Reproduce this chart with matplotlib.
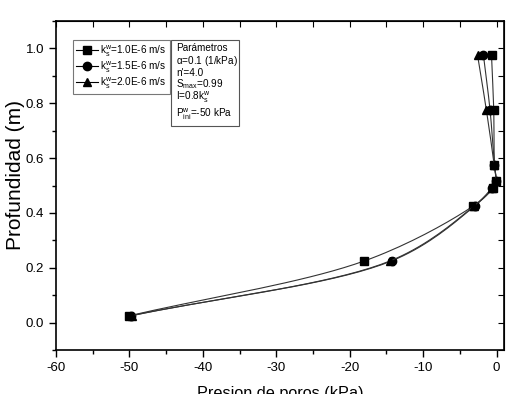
import numpy as np
import matplotlib
matplotlib.use("Agg")
import matplotlib.pyplot as plt
from matplotlib.ticker import MultipleLocator
from matplotlib.patches import Rectangle

plt.rcParams['font.family'] = ['Liberation Sans', 'DejaVu Sans']
plt.rcParams['mathtext.fontset'] = 'custom'
plt.rcParams['mathtext.rm'] = 'Liberation Sans'
plt.rcParams['mathtext.it'] = 'Liberation Sans'
plt.rcParams['mathtext.bf'] = 'Liberation Sans:bold'
plt.rcParams['axes.unicode_minus'] = False

depth = [0.025, 0.225, 0.425, 0.49, 0.515, 0.575, 0.775, 0.975]
p_k10 = [-50.0, -18.0, -3.2, -0.5, -0.1, -0.3, -0.4, -0.7]
p_k15 = [-49.8, -14.3, -3.0, -0.6, -0.1, -0.3, -0.9, -1.8]
p_k20 = [-49.7, -14.5, -3.1, -0.7, -0.15, -0.35, -1.4, -2.6]
labels = [r'k$^{w}_{s}$=1.0E-6 m/s', r'k$^{w}_{s}$=1.5E-6 m/s', r'k$^{w}_{s}$=2.0E-6 m/s']
markers = ['s', 'o', '^']
params = ["Parámetros", r"$\alpha$=0.1 (1/kPa)", "n'=4.0", r"S$_{max}$=0.99",
          r"I=0.8k$^{w}_{s}$", r"P$^{w}_{ini}$=-50 kPa"]


def catmull(xs, ys, n=20, sx=60.0, sy=1.2):
    P = np.column_stack([np.asarray(xs) / sx, np.asarray(ys) / sy])
    P = np.vstack([2 * P[0] - P[1], P, 2 * P[-1] - P[-2]])
    out = []
    for i in range(1, len(P) - 2):
        p0, p1, p2, p3 = P[i - 1], P[i], P[i + 1], P[i + 2]
        t0 = 0.0
        t1 = t0 + max(np.linalg.norm(p1 - p0), 1e-6) ** 0.5
        t2 = t1 + max(np.linalg.norm(p2 - p1), 1e-6) ** 0.5
        t3 = t2 + max(np.linalg.norm(p3 - p2), 1e-6) ** 0.5
        t = np.linspace(t1, t2, n)[:, None]
        A1 = (t1 - t) / (t1 - t0) * p0 + (t - t0) / (t1 - t0) * p1
        A2 = (t2 - t) / (t2 - t1) * p1 + (t - t1) / (t2 - t1) * p2
        A3 = (t3 - t) / (t3 - t2) * p2 + (t - t2) / (t3 - t2) * p3
        B1 = (t2 - t) / (t2 - t0) * A1 + (t - t0) / (t2 - t0) * A2
        B2 = (t3 - t) / (t3 - t1) * A2 + (t - t1) / (t3 - t1) * A3
        C = (t2 - t) / (t2 - t1) * B1 + (t - t1) / (t2 - t1) * B2
        out.append(C)
    C = np.vstack(out)
    return C[:, 0] * sx, C[:, 1] * sy


W, H = 522, 394
fig = plt.figure(figsize=(W / 100, H / 100), dpi=100)
AX_L, AX_R, AX_T, AX_B = 56, 504, 21, 350
ax = fig.add_axes([AX_L / W, 1 - AX_B / H, (AX_R - AX_L) / W, (AX_B - AX_T) / H])


def ax_frac(px, py):
    return (px - AX_L) / (AX_R - AX_L), (AX_B - py) / (AX_B - AX_T)


handles = []
for xs, lab, m in zip([p_k10, p_k15, p_k20], labels, markers):
    cx, cy = catmull(xs, depth)
    ax.plot(cx, cy, color='#333333', lw=0.8)
    ax.plot(xs, depth, linestyle='none', marker=m, color='black', ms=6)
    h, = ax.plot([], [], color='black', lw=0.8, marker=m, ms=6, label=lab)
    handles.append(h)

ax.set_xlim(-60, 1)
ax.set_ylim(-0.1, 1.1)
ax.xaxis.set_major_locator(MultipleLocator(10))
ax.xaxis.set_minor_locator(MultipleLocator(5))
ax.yaxis.set_major_locator(MultipleLocator(0.2))
ax.yaxis.set_minor_locator(MultipleLocator(0.1))
ax.yaxis.set_major_formatter(matplotlib.ticker.FormatStrFormatter('%.1f'))
ax.tick_params(which='both', direction='out', top=False, right=False, labelsize=9.5, width=1)
ax.tick_params(which='major', length=5)
ax.tick_params(which='minor', length=3)
for s in ax.spines.values():
    s.set_linewidth(1.2)

axt = ax.secondary_xaxis('top')
axt.set_xticks(np.arange(-60, 1, 5))
axt.tick_params(direction='in', length=4, labeltop=False)
axr = ax.secondary_yaxis('right')
axr.set_yticks(np.arange(-0.1, 1.11, 0.1))
axr.tick_params(direction='in', length=4, labelright=False)

ax.set_xlabel('Presion de poros (kPa)', fontsize=11.7, labelpad=9)
ax.set_ylabel('Profundidad (m)', fontsize=15)
lbx, lby = ax_frac(25, 175)
ax.yaxis.set_label_coords(lbx, lby)

lx, ly = ax_frac(72.5, 40)
leg = ax.legend(handles=handles, loc='upper left', bbox_to_anchor=(lx, ly),
                fontsize=7.2, frameon=True, fancybox=False, handlelength=2.2,
                borderpad=0.35, labelspacing=0.05, handletextpad=0.25, borderaxespad=0)
leg.get_frame().set_edgecolor('#555555')
leg.get_frame().set_linewidth(0.8)

bx0, by0 = ax_frac(171, 126)
bx1, by1 = ax_frac(239, 40)
ax.add_patch(Rectangle((bx0, by0), bx1 - bx0, by1 - by0, transform=ax.transAxes,
                       fc='white', ec='#555555', lw=0.8, zorder=5))
line_base = [51, 64, 75.5, 87, 100, 117.5]
for txt, py in zip(params, line_base):
    tx, ty = ax_frac(176, py)
    ax.text(tx, ty, txt, transform=ax.transAxes, fontsize=7.2, va='baseline',
            ha='left', zorder=6)

fig.savefig('out.png', dpi=100)
